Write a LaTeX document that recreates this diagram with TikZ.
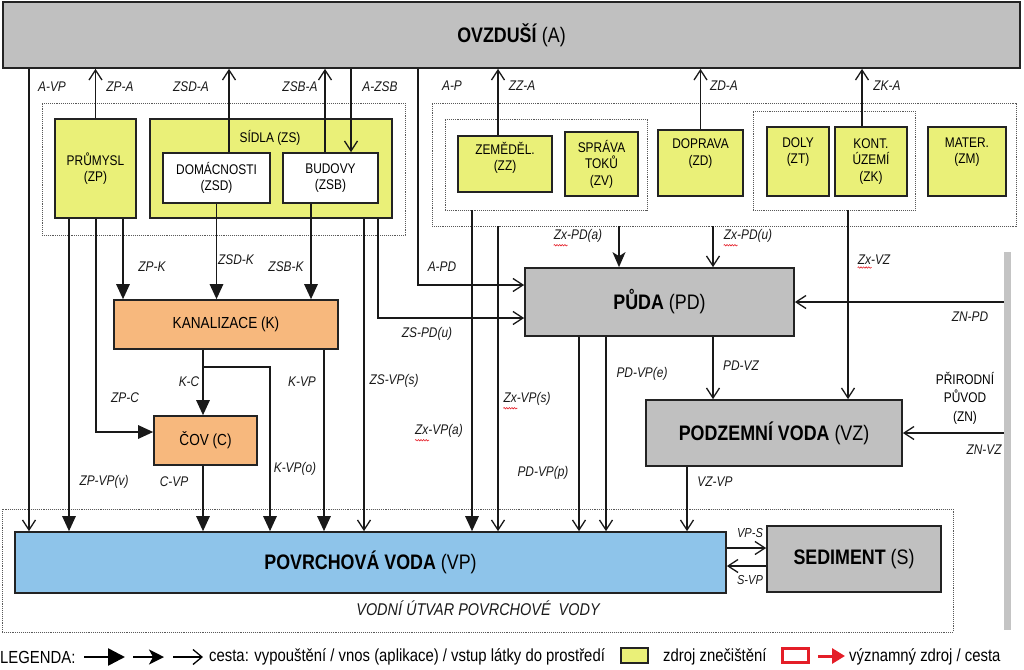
\documentclass[tikz,border=0pt]{standalone}
\usepackage{fontspec}
\setmainfont{Liberation Sans}[FakeStretch=0.85]
\usetikzlibrary{arrows.meta,calc,decorations.pathmorphing}
\definecolor{cA}{RGB}{192,192,192}
\definecolor{cY}{RGB}{234,240,120}
\definecolor{cO}{RGB}{247,184,125}
\definecolor{cB}{RGB}{142,196,234}
\definecolor{cBd}{RGB}{35,35,35}
\definecolor{cR}{RGB}{228,30,40}
\definecolor{cBar}{RGB}{196,196,196}
\begin{document}
\begin{tikzpicture}[x=1pt,y=-1pt,
  box/.style={draw=cBd, line width=1.7pt, inner sep=0pt, align=center},
  ybox/.style={box, fill=cY, font=\fontsize{14}{16.5}\selectfont},
  wbox/.style={box, fill=white, font=\fontsize{14}{16.5}\selectfont},
  obox/.style={box, fill=cO, font=\fontsize{16}{18}\selectfont},
  gbox/.style={box, fill=cA, font=\fontsize{21}{24}\selectfont},
  grp/.style={draw=black!65, densely dotted, line width=0.9pt, inner sep=0pt},
  lab/.style={font=\fontsize{14}{16}\selectfont\itshape, inner sep=0pt, text=black!90},
  con/.style={line width=1.3pt, draw=black!90},
  oarr/.style={con, -{Straight Barb[length=10pt,width=13pt,line width=1.3pt]}},
  farr/.style={con, -{Triangle[length=15pt,width=13.5pt]}},
  sarr/.style={con, -{Stealth[length=15pt,width=13pt,inset=4pt]}},
  leg/.style={font=\fontsize{17.5}{20}\selectfont, inner sep=0pt},
  squig/.style={draw=cR, line width=0.6pt, decorate, decoration={snake, amplitude=0.7pt, segment length=2.6pt}}
]
\useasboundingbox (0,0) rectangle (1024,669);
% helper coordinates
\foreach \v in {29,69,96,123,203,229,270,311,324,325,351,364,378,418,472,498,579,606,619,687,713,848,862}
  \coordinate (x\v) at (\v,0);
\foreach \v in {285,318,432,548,566}
  \coordinate (y\v) at (0,\v);
\coordinate (kbr) at (203,367);

% groups (dotted)
\node[grp, minimum width=363, minimum height=132] (gs) at (223.5,169) {};
\node[grp, minimum width=584, minimum height=123] (g0) at (724,164.5) {};
\node[grp, minimum width=202, minimum height=91] (g1) at (546,164.5) {};
\node[grp, minimum width=162, minimum height=99] (g2) at (834,160.5) {};
\node[grp, minimum width=951, minimum height=123] (gv) at (477.5,570.5) {};

% main boxes
\node[gbox, minimum width=1017, minimum height=66] (a) at (511.5,35) {\textbf{OVZDUŠÍ} (A)};
\node[ybox, minimum width=81, minimum height=99] (zp) at (95.5,168.5) {PRŮMYSL\\(ZP)};
\node[ybox, minimum width=242, minimum height=99] (zs) at (271,168.5) {};
\node[inner sep=0pt, font=\fontsize{14}{16.5}\selectfont] (zst) at (270,138) {SÍDLA (ZS)};
\node[wbox, minimum width=107, minimum height=50] (zsd) at (216.5,178) {DOMÁCNOSTI\\(ZSD)};
\node[wbox, minimum width=95, minimum height=50] (zsb) at (330.5,178) {BUDOVY\\(ZSB)};
\node[ybox, minimum width=94, minimum height=56] (zz) at (505,164) {ZEMĚDĚL.\\(ZZ)\\[-6pt]\strut};
\node[ybox, minimum width=73, minimum height=64] (zv) at (601.5,164) {SPRÁVA\\TOKŮ\\(ZV)};
\node[ybox, minimum width=85, minimum height=66] (zd) at (700.5,163) {DOPRAVA\\(ZD)\\\strut};
\node[ybox, minimum width=62, minimum height=69] (zt) at (798,161.5) {DOLY\\(ZT)\\\strut};
\node[ybox, minimum width=72, minimum height=69] (zk) at (871,161.5) {KONT.\\ÚZEMÍ\\(ZK)};
\node[ybox, minimum width=78, minimum height=69] (zm) at (967,161.5) {MATER.\\(ZM)\\\strut};
\node[obox, minimum width=224, minimum height=49] (k) at (226,324.5) {KANALIZACE (K)};
\node[obox, minimum width=103, minimum height=49] (cov) at (205.5,440.5) {ČOV (C)};
\node[gbox, minimum width=269, minimum height=68] (pd) at (659.5,302) {\textbf{PŮDA} (PD)};
\node[gbox, minimum width=256, minimum height=66] (vz) at (774,433) {\textbf{PODZEMNÍ VODA} (VZ)};
\node[gbox, fill=cB, minimum width=711, minimum height=61] (vp) at (370.5,562.5) {\textbf{POVRCHOVÁ VODA} (VP)};
\node[gbox, minimum width=174, minimum height=66] (s) at (854,559) {\textbf{SEDIMENT} (S)};
\node[fill=cBar, minimum width=7, minimum height=378, inner sep=0pt] (bar) at (1007.5,441) {};

% connectors to / from air
\draw[oarr] (a.south -| x29) -- (vp.north -| x29);
\draw[oarr] (zp.north) -- (a.south -| zp.north);
\draw[oarr] (zsd.north -| x229) -- (a.south -| x229);
\draw[oarr] (zsb.north -| x325) -- (a.south -| x325);
\draw[oarr] (a.south -| x351) -- (zsb.north -| x351);
\draw[oarr] (zz.north -| x498) -- (a.south -| x498);
\draw[oarr] (zd.north) -- (a.south -| zd.north);
\draw[oarr] (zk.north -| x862) -- (a.south -| x862);
\draw[oarr] (a.south -| x418) |- (pd.west |- y285);
% settlements
\draw[farr] (zp.south -| x69) -- (vp.north -| x69);
\draw[farr] (zp.south -| x96) |- (cov.west |- y432);
\draw[farr] (zp.south -| x123) -- (k.north -| x123);
\draw[farr] (zsd.south) -- (k.north -| zsd.south);
\draw[farr] (zsb.south -| x311) -- (k.north -| x311);
\draw[oarr] (zs.south -| x364) -- (vp.north -| x364);
\draw[oarr] (zs.south -| x378) |- (pd.west |- y318);
% sewer, WWTP
\draw[farr] (k.south -| x203) -- (cov.north -| x203);
\draw[farr] (kbr) -| (vp.north -| x270);
\draw[farr] (k.south -| x324) -- (vp.north -| x324);
\draw[farr] (cov.south -| x203) -- (vp.north -| x203);
% other sources
\draw[farr] (g1.south -| x472) -- (vp.north -| x472);
\draw[oarr] (g0.south -| x498) -- (vp.north -| x498);
\draw[sarr] (g0.south -| x619) -- (pd.north -| x619);
\draw[oarr] (g0.south -| x713) -- (pd.north -| x713);
\draw[oarr] (g2.south -| x848) -- (vz.north -| x848);
% soil, groundwater, natural
\draw[oarr] (bar.west |- pd.east) -- (pd.east);
\draw[oarr] (bar.west |- vz.east) -- (vz.east);
\draw[oarr] (pd.south -| x579) -- (vp.north -| x579);
\draw[oarr] (pd.south -| x606) -- (vp.north -| x606);
\draw[oarr] (pd.south -| x713) -- (vz.north -| x713);
\draw[oarr] (vz.south -| x687) -- (vp.north -| x687);
\draw[oarr] (vp.east |- y548) -- (s.west |- y548);
\draw[oarr] (s.west |- y566) -- (vp.east |- y566);

% labels
\node[lab] (l1) at (52,87) {A-VP};
\node[lab] (l2) at (120,87) {ZP-A};
\node[lab] (l3) at (191,87) {ZSD-A};
\node[lab] (l4) at (300,87) {ZSB-A};
\node[lab] (l5) at (380,87) {A-ZSB};
\node[lab] (l6) at (452,86) {A-P};
\node[lab] (l7) at (522,86) {ZZ-A};
\node[lab] (l8) at (724,86) {ZD-A};
\node[lab] (l9) at (887,86) {ZK-A};
\node[lab] (l10) at (578,236) {Zx-PD(a)};
\node[lab] (l11) at (748,236) {Zx-PD(u)};
\node[lab] (l12) at (874,260) {Zx-VZ};
\node[lab] (l13) at (152,267) {ZP-K};
\node[lab] (l14) at (236,260) {ZSD-K};
\node[lab] (l15) at (286,267) {ZSB-K};
\node[lab] (l16) at (442,267) {A-PD};
\node[lab] (l17) at (427,334) {ZS-PD(u)};
\node[lab] (l18) at (741,366) {PD-VZ};
\node[lab] (l19) at (642,374) {PD-VP(e)};
\node[lab] (l20) at (189,382) {K-C};
\node[lab] (l21) at (302,382) {K-VP};
\node[lab] (l22) at (394,381) {ZS-VP(s)};
\node[lab] (l23) at (125,398) {ZP-C};
\node[lab] (l24) at (527,399) {Zx-VP(s)};
\node[lab] (l25) at (439,431) {Zx-VP(a)};
\node[lab] (l26) at (970,317) {ZN-PD};
\node[lab] (l27) at (984,450) {ZN-VZ};
\node[lab] (l28) at (295,469) {K-VP(o)};
\node[lab] (l29) at (543,473) {PD-VP(p)};
\node[lab] (l30) at (104,482) {ZP-VP(v)};
\node[lab] (l31) at (174,482) {C-VP};
\node[lab] (l32) at (715,482) {VZ-VP};
\node[lab, font=\fontsize{13}{15}\selectfont\itshape] (l33) at (750,533) {VP-S};
\node[lab, font=\fontsize{13}{15}\selectfont\itshape] (l34) at (750,580) {S-VP};
\node[inner sep=0pt, align=center, font=\fontsize{14}{18.5}\selectfont] (zn) at (965,398) {PŘIRODNÍ\\PŮVOD\\(ZN)};
\node[lab, font=\fontsize{17}{19}\selectfont\itshape] (gvl) at (478,608) {VODNÍ ÚTVAR POVRCHOVÉ\ \ VODY};
% spell-check squiggles under "Zx"
\foreach \n in {l10,l11,l12,l24,l25}
  \draw[squig] ($(\n.south west)+(0,2.5)$) -- ++(14,0);

% legend
\node[leg, anchor=west] (lg) at (0,657) {LEGENDA:};
\coordinate (la1) at (84,657); \coordinate (lb1) at (125,657);
\coordinate (la2) at (133,657); \coordinate (lb2) at (164,657);
\coordinate (la3) at (173,657); \coordinate (lb3) at (203,657);
\draw[line width=2.6pt, -{Triangle[length=17pt,width=17pt]}] (la1) -- (lb1);
\draw[line width=1.8pt, -{Stealth[length=15pt,width=15pt,inset=4pt]}] (la2) -- (lb2);
\draw[line width=1.3pt, -{Straight Barb[length=9pt,width=15pt,line width=1.3pt]}] (la3) -- (lb3);
\node[leg, anchor=west] (lgt) at (209,657) {cesta: vypouštění / vnos (aplikace) / vstup látky do prostředí};
\node[draw=cBd, line width=1.3pt, fill=cY, minimum width=27, minimum height=15, inner sep=0pt] (ly) at (634.5,655.5) {};
\node[leg, anchor=west] (lyt) at (663,657) {zdroj znečištění};
\node[draw=cR, line width=2.6pt, fill=white, minimum width=26, minimum height=14, inner sep=0pt] (lr) at (795.5,655.5) {};
\coordinate (la4) at (818,656); \coordinate (lb4) at (845,656);
\draw[cR, line width=3pt, -{Triangle[length=13pt,width=15pt]}] (la4) -- (lb4);
\node[leg, anchor=west] (lrt) at (849,657) {významný zdroj / cesta};
\end{tikzpicture}
\end{document}
